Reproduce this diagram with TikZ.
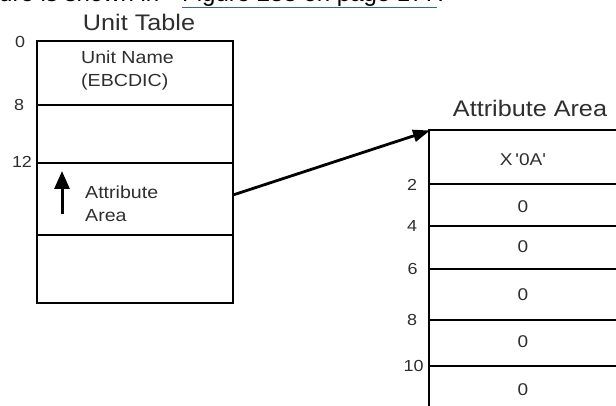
\documentclass[tikz,border=0pt]{standalone}
\usepackage{fontspec}
\setmainfont{Liberation Sans}
\newfontfamily\dgfont[FakeStretch=1.12]{Liberation Sans}
\usetikzlibrary{arrows.meta,calc}
\definecolor{txtgray}{HTML}{2E2E2E}
\definecolor{linkblue}{HTML}{2F5FC4}
\begin{document}
\begin{tikzpicture}[x=1pt,y=-1pt,
  box/.style={line width=2.8pt, line join=miter, line cap=rect},
  celltxt/.style={font=\dgfont\fontsize{17.5}{23}\selectfont, text=txtgray, inner sep=0pt, align=left},
  ttl/.style={font=\dgfont\fontsize{22.5}{24}\selectfont, text=txtgray, inner sep=0pt},
  off/.style={font=\dgfont\fontsize{16}{17}\selectfont, text=txtgray, inner sep=0pt},
  val/.style={font=\dgfont\fontsize{17}{18}\selectfont, text=txtgray, inner sep=0pt},
  body/.style={font=\fontsize{24}{28}\selectfont, text=black, inner sep=0pt, anchor=base west}]
\useasboundingbox (0,0) rectangle (616,406);
\clip (0,0) rectangle (616,406);

% lead-in text (cut at the top, as in the reference)
\node[body] (lead) at (-1,1.5) {ure is shown in};
\node[body] (link) at (182,1.5) {Figure 288 on page 177};
\node[body] (dot) at (link.base east) {.};
\draw[linkblue, line width=1pt] ([yshift=-6pt]link.base west) -- ([yshift=-6pt]link.base east);

% Unit Table
\node[ttl] (uttitle) at (139,22) {Unit Table};
\draw[box] (37,41) rectangle (233,303);
\draw[box] (37,105) -- (233,105);
\draw[box] (37,163) -- (233,163);
\draw[box] (37,235) -- (233,235);
\node[off] (u0) at (20,42) {0};
\node[off] (u8) at (19,105) {8};
\node[off] (u12) at (22,162) {12};
\node[celltxt, anchor=west] (uname) at (81,70.5) {Unit Name\\(EBCDIC)};
\node[celltxt, anchor=west] (uattr) at (85,203.5) {Attribute\\Area};
\coordinate (uparrowfrom) at (62,214);
\coordinate (uparrowto) at (62,171);
\draw[line width=3pt, -{Triangle[length=18pt,width=15pt]}] (uparrowfrom) -- (uparrowto);

% Attribute Area
\node[ttl] (aatitle) at (530,108) {Attribute Area};
\draw[box] (429,130) -- (429,410);
\foreach \y in {130,184,226,269,320,366} {\draw[box] (429,\y) -- (620,\y);}
\node[off] (a2) at (412,185) {2};
\node[off] (a4) at (412,226) {4};
\node[off] (a6) at (412.5,269) {6};
\node[off] (a8) at (412,320) {8};
\node[off] (a10) at (413.5,366) {10};
\node[val] (v0) at (523,160) {X\,'0A'};
\node[val] (v1) at (523,207) {0};
\node[val] (v2) at (523,247) {0};
\node[val] (v3) at (523,295) {0};
\node[val] (v4) at (523,342) {0};
\node[val] (v5) at (523,390) {0};

% connector
\coordinate (cstart) at (233,195);
\coordinate (aacorner) at (430,130.5);
\draw[line width=2.8pt, -{Triangle[length=17pt,width=12pt]}] (cstart) -- (aacorner);
\end{tikzpicture}
\end{document}
